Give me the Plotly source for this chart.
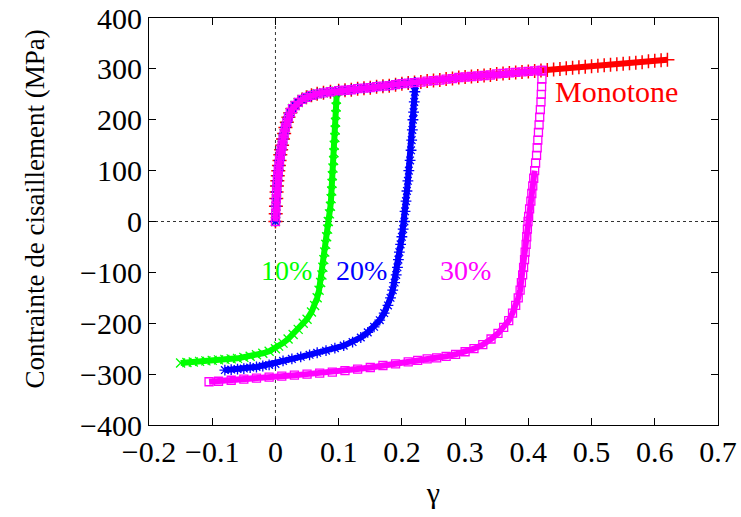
import plotly.graph_objects as go

# ---- data ----
# monotonic loading branch (shared by every curve)
load_gamma = [0, 0.0004, 0.0008, 0.0013, 0.0018, 0.0024, 0.003, 0.0037, 0.0045, 0.0055,
              0.0065, 0.0077, 0.009, 0.0105, 0.012, 0.0138, 0.0158, 0.018, 0.0205, 0.0235,
              0.027, 0.031, 0.036, 0.042, 0.049, 0.057, 0.066, 0.076, 0.087, 0.1,
              0.11, 0.12, 0.13, 0.14, 0.15, 0.16, 0.17, 0.18, 0.19, 0.20,
              0.21, 0.22, 0.23, 0.24, 0.25, 0.26, 0.27, 0.28, 0.29, 0.30,
              0.31, 0.32, 0.33, 0.34, 0.35, 0.36, 0.37, 0.38, 0.39, 0.40, 0.41, 0.42]
load_tau = [0, 15, 30, 45, 58, 70, 80, 90, 100, 110,
            120, 131, 141, 150, 162, 173, 185, 195, 205, 214,
            222, 228, 234, 240, 244, 248, 251, 253, 255, 257,
            258, 259, 261, 262, 263, 265, 266, 267, 269, 271,
            272, 273, 274, 276, 277, 278, 280, 281, 283, 284,
            285, 286, 287, 288, 290, 291, 292, 293, 294, 295, 296, 297]

# monotone continuation beyond 0.42
mono_ext_gamma = [0.43, 0.44, 0.45, 0.46, 0.47, 0.48, 0.49, 0.50, 0.51, 0.52,
                  0.53, 0.54, 0.55, 0.56, 0.57, 0.58, 0.59, 0.60, 0.61, 0.62]
mono_ext_tau = [298, 299, 300, 301, 302, 303, 304, 305, 306, 307,
                308, 309, 310, 311, 312, 313, 315, 316, 317, 318]

# 10 % cycle: unloading + reverse loading
g10_gamma = [0.097, 0.0965, 0.096, 0.0955, 0.095, 0.0945, 0.094, 0.093, 0.0925, 0.092,
             0.091, 0.090, 0.0895, 0.089, 0.088, 0.087, 0.0855, 0.0836,
             0.0825, 0.081, 0.0795, 0.078, 0.0765, 0.075, 0.0735, 0.0715, 0.069, 0.066,
             0.062, 0.057, 0.050, 0.044, 0.036, 0.028, 0.020, 0.012, 0.005, 0.0,
             -0.01, -0.02, -0.03, -0.04, -0.05, -0.06, -0.07, -0.08, -0.09, -0.10,
             -0.11, -0.12, -0.13, -0.14, -0.15]
g10_tau = [256, 240, 225, 210, 195, 180, 165, 150, 135, 120,
           105, 90, 75, 60, 45, 30, 15, 0,
           -15, -30, -45, -60, -75, -90, -105, -120, -135, -150,
           -165, -178, -192, -200, -212, -222, -231, -239, -245, -250,
           -255, -259, -262, -265, -267, -269, -270, -271, -272, -273,
           -274, -275, -276, -277, -278]

# 20 % cycle
g20_gamma = [0.221, 0.2205, 0.2195, 0.2185, 0.2175, 0.2165, 0.2155, 0.2145, 0.213, 0.211,
             0.2095, 0.208, 0.2065, 0.205, 0.204,
             0.202, 0.200, 0.198, 0.196, 0.1945, 0.193, 0.191, 0.1885, 0.1855, 0.182,
             0.178, 0.172, 0.165, 0.156, 0.146, 0.135, 0.122, 0.108, 0.094, 0.08,
             0.066, 0.054, 0.04, 0.026, 0.012, 0.0, -0.01, -0.02, -0.03, -0.04,
             -0.05, -0.06, -0.07, -0.08]
g20_tau = [273, 255, 235, 215, 200, 180, 160, 140, 120, 100,
           80, 60, 40, 20, 0,
           -15, -30, -45, -60, -75, -90, -105, -120, -135, -150,
           -165, -180, -194, -207, -218, -228, -237, -244, -249, -254,
           -258, -262, -266, -270, -274, -280, -282, -284, -286, -287,
           -289, -290, -291, -292]

# 30 % cycle
g30_gamma = [0.422, 0.4215, 0.421, 0.4205, 0.420, 0.419, 0.418, 0.417, 0.416, 0.415,
             0.414, 0.413, 0.4115, 0.410, 0.4085, 0.407, 0.4055, 0.404, 0.402, 0.4005, 0.3995,
             0.3985, 0.3975, 0.3965, 0.395, 0.394, 0.3925, 0.391, 0.389, 0.387, 0.384,
             0.380, 0.375, 0.369, 0.361, 0.352, 0.341, 0.328, 0.314, 0.30, 0.285,
             0.27, 0.255, 0.24, 0.225, 0.21, 0.19, 0.17, 0.15, 0.13, 0.11,
             0.09, 0.07, 0.05, 0.03, 0.01, -0.01, -0.03, -0.05, -0.07, -0.09, -0.105]
g30_tau = [297, 280, 265, 250, 235, 220, 205, 190, 175, 160,
           145, 130, 115, 100, 85, 70, 55, 40, 25, 10, 0,
           -15, -30, -45, -60, -75, -90, -105, -120, -135, -150,
           -165, -180, -195, -208, -220, -231, -242, -250, -256, -261,
           -265, -268, -270, -273, -276, -280, -283, -287, -290, -293,
           -296, -298, -300, -302, -304, -306, -308, -310, -312, -314, -315]

x_ticks = [-0.2, -0.1, 0, 0.1, 0.2, 0.3, 0.4, 0.5, 0.6, 0.7]
x_tick_text = ["\u22120.2", "\u22120.1", "0", "0.1", "0.2", "0.3", "0.4", "0.5", "0.6", "0.7"]
y_ticks = [-400, -300, -200, -100, 0, 100, 200, 300, 400]
y_tick_text = ["\u2212400", "\u2212300", "\u2212200", "\u2212100", "0", "100", "200", "300", "400"]

labels = ["Monotone", "10%", "20%", "30%"]
label_gamma = [0.539, 0.0175, 0.136, 0.301]
label_tau = [255, -96, -96, -96]
label_size = [30, 28, 28, 28]

RED, GREEN, BLUE, MAGENTA = "#ff0000", "#00ff00", "#0000ff", "#ff00ff"
FONT = "Liberation Serif"
BAND = 6


def prefix(peak):
    gs = [g for g in load_gamma if g < peak]
    return gs, load_tau[:len(gs)]


fig = go.Figure()

# monotone
mono_g = load_gamma + mono_ext_gamma
mono_t = load_tau + mono_ext_tau
fig.add_trace(go.Scatter(x=mono_g, y=mono_t, mode="lines", line=dict(color=RED, width=BAND),
                         showlegend=False, hoverinfo="skip"))
fig.add_trace(go.Scatter(x=mono_g, y=mono_t, mode="markers",
                         marker=dict(symbol="cross-thin-open", size=10, color=RED,
                                     line=dict(color=RED, width=1.5)),
                         showlegend=False))

cycles = [(g10_gamma, g10_tau, GREEN, "x-thin-open", 9, None),
          (g20_gamma, g20_tau, BLUE, "asterisk-open", 9, None),
          (g30_gamma, g30_tau, MAGENTA, "square-open", 8, 100)]

for ug, ut, col, sym, sz, elastic_limit in cycles:
    pg, pt = prefix(ug[0])
    if elastic_limit is None:
        fig.add_trace(go.Scatter(x=pg + ug, y=pt + ut, mode="lines",
                                 line=dict(color=col, width=BAND),
                                 showlegend=False, hoverinfo="skip"))
    else:
        # the elastic unloading shows separate markers, no solid band
        fig.add_trace(go.Scatter(x=pg + ug[:1], y=pt + ut[:1], mode="lines",
                                 line=dict(color=col, width=BAND),
                                 showlegend=False, hoverinfo="skip"))
        k = next(i for i, t in enumerate(ut) if t <= elastic_limit)
        fig.add_trace(go.Scatter(x=ug[k:], y=ut[k:], mode="lines",
                                 line=dict(color=col, width=BAND),
                                 showlegend=False, hoverinfo="skip"))
    fig.add_trace(go.Scatter(x=pg + ug, y=pt + ut, mode="markers",
                             marker=dict(symbol=sym, size=sz, color=col,
                                         line=dict(color=col, width=1.3)),
                             showlegend=False))

for txt, gx, ty, col, fs in zip(labels, label_gamma, label_tau,
                                [RED, GREEN, BLUE, MAGENTA], label_size):
    fig.add_annotation(x=gx, y=ty, text=txt, showarrow=False,
                       font=dict(family=FONT, size=fs, color=col),
                       xanchor="center", yanchor="middle")

# y-axis title (placed slightly above the axis centre, as in the reference)
fig.add_annotation(xref="paper", yref="paper", x=-0.2, y=0.53,
                   text="Contrainte de cisaillement (MPa)", showarrow=False,
                   textangle=-90, font=dict(family=FONT, size=27, color="black"),
                   xanchor="center", yanchor="middle")

# dotted zero axes
fig.add_shape(type="line", xref="x", yref="y", x0=0, x1=0, y0=-400, y1=400,
              line=dict(color="#333333", width=1, dash="dot"), layer="below")
fig.add_shape(type="line", xref="x", yref="y", x0=-0.2, x1=0.7, y0=0, y1=0,
              line=dict(color="#333333", width=1, dash="dot"), layer="below")

axis_common = dict(showgrid=False, zeroline=False, showline=True, linecolor="black",
                   linewidth=1, mirror="ticks", ticks="inside", ticklen=7,
                   tickcolor="black", automargin=False,
                   tickfont=dict(family=FONT, size=30, color="black"))

fig.update_layout(
    width=741, height=517,
    margin=dict(l=149, r=23, t=18, b=92),
    paper_bgcolor="white", plot_bgcolor="white",
    xaxis=dict(range=[-0.2, 0.7], tickvals=x_ticks, ticktext=x_tick_text,
               title=dict(text="\u03b3", font=dict(family=FONT, size=30, color="black"),
                          standoff=14),
               **axis_common),
    yaxis=dict(range=[-400, 400], tickvals=y_ticks, ticktext=y_tick_text,
               **axis_common),
)

fig.write_html("out.html")
